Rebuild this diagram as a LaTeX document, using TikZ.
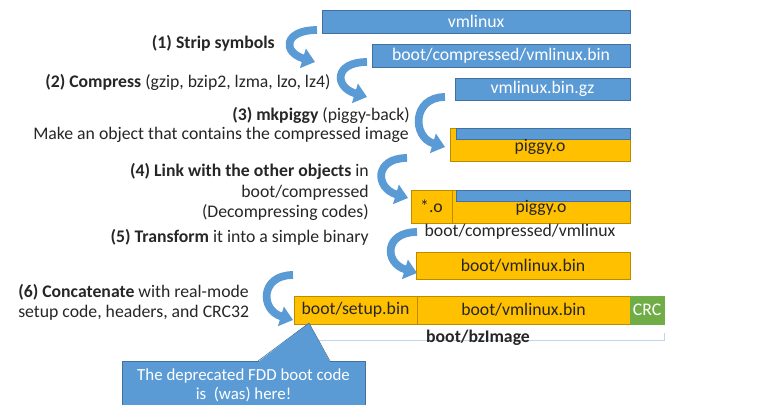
\documentclass[tikz,border=0pt]{standalone}
\usepackage{fontspec}
\setmainfont{Carlito}
\usepackage{tikz}
\usetikzlibrary{positioning,arrows.meta,calc}
\definecolor{blu}{HTML}{5B9BD5}
\definecolor{bluedge}{HTML}{41719C}
\definecolor{yel}{HTML}{FFC000}
\definecolor{yeledge}{HTML}{BC8C00}
\definecolor{grn}{HTML}{70AD47}
\definecolor{ink}{HTML}{262626}
\definecolor{brkc}{HTML}{BDD7EE}
\newcommand{\fsz}{\fontsize{12.6}{14.7}\selectfont}
\tikzset{
  bbox/.style={draw=bluedge,fill=blu,text=white,inner sep=0pt,outer sep=0pt,font=\fsz,anchor=north west},
  ybox/.style={draw=yeledge,fill=yel,text=ink,inner sep=0pt,outer sep=0pt,font=\fsz,anchor=north west},
  lab/.style={text=ink,font=\fsz,inner sep=0pt},
  curvarr/.style={draw=blu,line width=5.5pt,-{Triangle[length=9pt,width=14pt]}},
  brk/.style={draw=brkc,thin},
}

\begin{document}
\begin{tikzpicture}[x=0.025cm,y=0.025cm]
\useasboundingbox (0,0) rectangle (766,404);
% files
\node[bbox,minimum width=7.7cm,minimum height=0.575cm] (vm) at (322,394) {vmlinux};
\node[bbox,minimum width=6.45cm,minimum height=0.575cm] (vmbin) at (372,360) {boot/compressed/vmlinux.bin};
\node[bbox,minimum width=4.375cm,minimum height=0.55cm] (gz) at (455,326) {vmlinux.bin.gz};
\node[ybox,minimum width=4.5cm,minimum height=0.825cm] (p3) at (450,276) {};
\node[bbox,minimum width=4.35cm,minimum height=0.275cm,anchor=north east] (p3gz) at (p3.north east) {};
\node[lab] (p3t) at (540,257) {piggy.o};
\node[ybox,minimum width=1.025cm,minimum height=0.825cm] (obj) at (411,214) {*.o};
\node[ybox,minimum width=4.45cm,minimum height=0.825cm] (p4) at (obj.north east) {};
\node[bbox,minimum width=4.35cm,minimum height=0.275cm,anchor=north east] (p4gz) at (p4.north east) {};
\node[lab] (p4t) at (541,196) {piggy.o};
\node[lab] (cvm) at (520,172) {boot/compressed/vmlinux};
\node[ybox,minimum width=5.35cm,minimum height=0.675cm] (bvm) at (416,152) {boot/vmlinux.bin};
\node[ybox,minimum width=3.075cm,minimum height=0.7cm] (setup) at (294,108) {boot/setup.bin};
\node[ybox,minimum width=5.325cm,minimum height=0.7cm] (vmb) at (setup.north east) {boot/vmlinux.bin};
\node[ybox,fill=grn,draw=grn,text=white,minimum width=0.85cm,minimum height=0.7cm] (crc) at (vmb.north east) {CRC};
\draw[brk] ($(setup.south west)+(0,-9)$) -- ($(setup.south west)+(0,-16)$) -| ($(crc.south east)+(0,-9)$);
\node[lab,font=\fsz\bfseries] (bz) at (478,66) {boot/bzImage};
% steps
\node[lab,anchor=east] (l1) at (275,361) {\textbf{(1) Strip symbols}};
\node[lab,anchor=west] (l2) at (45,322) {\textbf{(2) Compress} (gzip, bzip2, lzma, lzo, lz4)};
\node[lab,anchor=west] (l3) at (232,289) {\textbf{(3) mkpiggy} (piggy-back)};
\node[lab,anchor=west] (l3b) at (33,269) {Make an object that contains the compressed image};
\node[lab,anchor=east,align=right] (l4) at (369,212) {\textbf{(4) Link with the other objects} in\\boot/compressed\\(Decompressing codes)};
\node[lab,anchor=east] (l5) at (369,167) {\textbf{(5) Transform} it into a simple binary};
\node[lab,anchor=west,align=left] (l6) at (18,101.5) {\textbf{(6) Concatenate} with real-mode\\setup code, headers, and CRC32};
% curved arrows
\coordinate (s1) at (317,374); \coordinate (e1) at (315,342);
\coordinate (s2) at (367,342); \coordinate (e2) at (367,307);
\coordinate (s3) at (445,307); \coordinate (e3) at (445,257);
\coordinate (s4) at (407,246); \coordinate (e4) at (408,206);
\coordinate (s5) at (417,172); \coordinate (e5) at (417,131);
\coordinate (s6) at (293,129); \coordinate (e6) at (293,84);
\foreach \n in {1,...,6}{\draw[curvarr] (s\n) .. controls ($(s\n)+(-33,0)$) and ($(e\n)+(-33,10)$) .. (e\n);}
% callout
\node[bbox,minimum width=6.075cm,minimum height=1.2cm,align=center,font=\fontsize{12}{13.5}\selectfont] (fdd) at (122,43) {The deprecated FDD boot code\\is\ \ (was) here!};
\coordinate (tip) at ($(setup.south west)+(15,1)$);
\fill[blu] ($(fdd.north west)+(136,-1)$) -- (tip) -- ($(fdd.north west)+(208,-1)$) -- cycle;
\draw[bluedge,thin] ($(fdd.north west)+(136,0)$) -- (tip) -- ($(fdd.north west)+(208,0)$);
\end{tikzpicture}
\end{document}
